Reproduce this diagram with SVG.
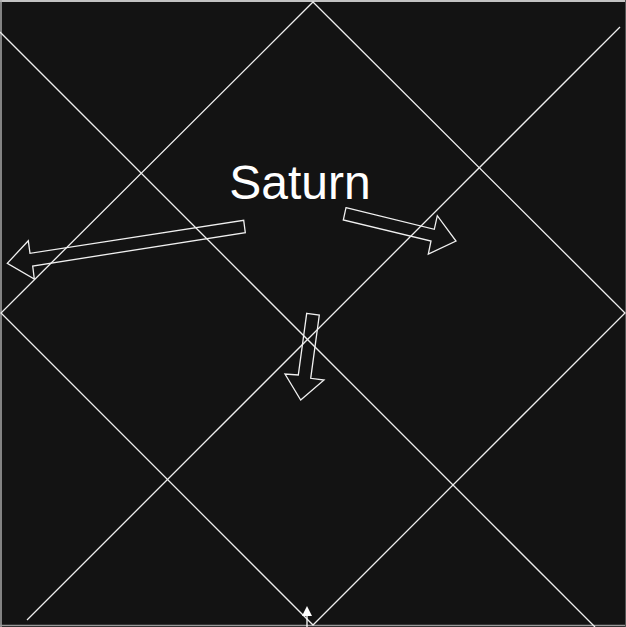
<svg xmlns="http://www.w3.org/2000/svg" width="626" height="627" viewBox="0 0 626 627">
<style>
.ln{stroke:#eeeeee;stroke-width:1.3;fill:none}
.ar{stroke:#f0f0f0;stroke-width:1.3;fill:none;stroke-linejoin:miter}
.lbl{font-family:"Liberation Sans",Arial,sans-serif;font-size:48px;fill:#ffffff}
</style>
<defs>
<marker id="tri" markerWidth="10" markerHeight="10" refX="5" refY="5" orient="auto" markerUnits="userSpaceOnUse">
<path d="M0,0 L10,5 L0,10 Z" fill="#ffffff"/>
</marker>
</defs>
<rect x="0" y="0" width="626" height="627" fill="#131313"/>
<g id="frame">
<line x1="0" y1="1" x2="626" y2="1" stroke="#ffffff" stroke-width="1.5"/>
<line x1="1" y1="0" x2="1" y2="627" stroke="#aaaaaa" stroke-width="1.5"/>
<line x1="0" y1="625.5" x2="626" y2="625.5" stroke="#999999" stroke-width="1.5"/>
<line x1="625.5" y1="0" x2="625.5" y2="627" stroke="#555555" stroke-width="1"/>
</g>
<g id="connectors">
<polygon class="ln" points="313,2 625,313 313,625 1,313"/>
<line class="ln" x1="0" y1="32" x2="595" y2="627"/>
<line class="ln" x1="620" y1="27" x2="27" y2="620"/>
<line x1="307" y1="627" x2="307" y2="611" stroke="#ffffff" stroke-width="1.3" marker-end="url(#tri)"/>
</g>
<g id="arrow-left">
<polygon class="ar" points="243.7,220.3 245.3,232.7 32.7,266 34.3,279 7.3,263.3 28.3,240.7 30,253.3"/>
</g>
<g id="arrow-right">
<polygon class="ar" points="346,207.7 434.3,229.3 437.3,215.7 456,241 428.3,254 431,241 343.3,220"/>
</g>
<g id="arrow-down">
<polygon class="ar" points="306.7,313.3 319.3,315 310.7,378.3 324,380 300.7,400 285,374 298.3,375"/>
</g>
<g id="saturn">
<text class="lbl" x="300" y="199" text-anchor="middle">Saturn</text>
</g>
</svg>
